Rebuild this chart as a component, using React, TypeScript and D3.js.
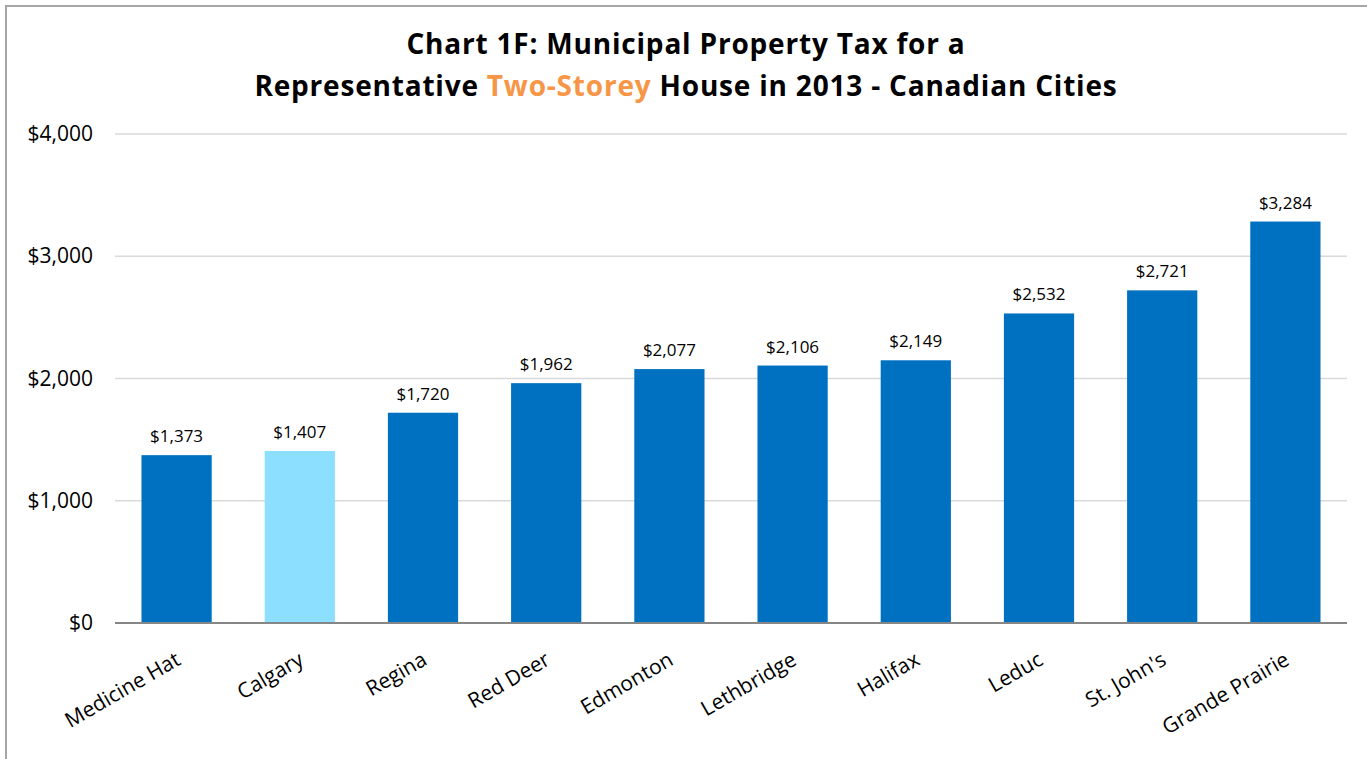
import React, { useRef, useEffect } from 'react';
import * as d3 from 'd3';

// Chart data
const cities = ['Medicine Hat', 'Calgary', 'Regina', 'Red Deer', 'Edmonton', 'Lethbridge', 'Halifax', 'Leduc', "St. John's", 'Grande Prairie'];
const taxes = [1373, 1407, 1720, 1962, 2077, 2106, 2149, 2532, 2721, 3284];
const yTicks = [0, 1000, 2000, 3000, 4000];
const highlight = 'Calgary';

const FONT = '"Open Sans", Lato, sans-serif';

function App() {
  const svgRef = useRef<SVGSVGElement>(null);

  useEffect(() => {
    const width = 1367;
    const height = 759;
    const margin = { left: 115, right: 20, top: 134, bottom: 136 };

    const svg = d3.select(svgRef.current);
    svg.selectAll('*').remove();

    // outer chart border (only left/top visible)
    svg.append('rect')
      .attr('x', 6).attr('y', 6)
      .attr('width', width + 20).attr('height', height + 20)
      .attr('fill', '#fff')
      .attr('stroke', '#a6a6a6')
      .attr('stroke-width', 2);

    const x = d3.scaleBand()
      .domain(cities)
      .range([margin.left, width - margin.right])
      .paddingInner(0.43)
      .paddingOuter(0.215);

    const y = d3.scaleLinear()
      .domain([0, 4000])
      .range([height - margin.bottom, margin.top]);

    // gridlines
    svg.append('g')
      .selectAll('line')
      .data(yTicks.filter(d => d > 0))
      .enter()
      .append('line')
      .attr('x1', margin.left)
      .attr('x2', width - margin.right)
      .attr('y1', d => y(d))
      .attr('y2', d => y(d))
      .attr('stroke', '#d9d9d9')
      .attr('stroke-width', 1.3);

    // y-axis labels
    const yAxis = svg.append('g')
      .attr('transform', `translate(${margin.left}, 0)`)
      .call(d3.axisLeft(y).tickValues(yTicks).tickSize(0).tickPadding(22)
        .tickFormat(d => '$' + d3.format(',')(d as number)));
    yAxis.select('.domain').remove();
    yAxis.selectAll('text')
      .attr('font-family', FONT)
      .attr('font-size', 21)
      .attr('fill', '#000');

    // bars
    svg.append('g')
      .selectAll('rect')
      .data(cities)
      .enter()
      .append('rect')
      .attr('x', d => x(d)!)
      .attr('y', (d, i) => y(taxes[i]))
      .attr('width', x.bandwidth())
      .attr('height', (d, i) => y(0) - y(taxes[i]))
      .attr('fill', d => (d === highlight ? '#8ddfff' : '#0070c0'));

    // data labels
    svg.append('g')
      .selectAll('text')
      .data(cities)
      .enter()
      .append('text')
      .attr('x', d => x(d)! + x.bandwidth() / 2)
      .attr('y', (d, i) => y(taxes[i]) - 13)
      .attr('text-anchor', 'middle')
      .attr('font-family', FONT)
      .attr('font-size', 17)
      .attr('fill', '#000')
      .text((d, i) => '$' + d3.format(',')(taxes[i]));

    // baseline
    svg.append('line')
      .attr('x1', margin.left)
      .attr('x2', width - margin.right)
      .attr('y1', y(0))
      .attr('y2', y(0))
      .attr('stroke', '#868686')
      .attr('stroke-width', 2);

    // x-axis labels
    svg.append('g')
      .selectAll('text')
      .data(cities)
      .enter()
      .append('text')
      .attr('transform', d => `translate(${x(d)! + x.bandwidth() / 2 - 2}, ${y(0) + 28}) rotate(-30)`)
      .attr('text-anchor', 'end')
      .attr('dy', '0.7em')
      .attr('font-family', FONT)
      .attr('font-size', 21)
      .attr('fill', '#000')
      .text(d => d);

    // title
    const title = svg.append('g')
      .attr('font-family', FONT)
      .attr('font-weight', 'bold')
      .attr('font-size', 28)
      .attr('letter-spacing', 0.8)
      .attr('text-anchor', 'middle')
      .attr('fill', '#000');
    title.append('text')
      .attr('x', 686).attr('y', 54)
      .text('Chart 1F: Municipal Property Tax for a');
    const t2 = title.append('text').attr('x', 686).attr('y', 96);
    t2.append('tspan').text('Representative ');
    t2.append('tspan').attr('fill', '#f79646').text('Two-Storey');
    t2.append('tspan').text(' House in 2013 - Canadian Cities');
  }, []);

  return (
    <svg
      ref={svgRef}
      width={1367}
      height={759}
      style={{ position: 'absolute', left: 0, top: 0, background: '#fff' }}
    />
  );
}

export default App;
